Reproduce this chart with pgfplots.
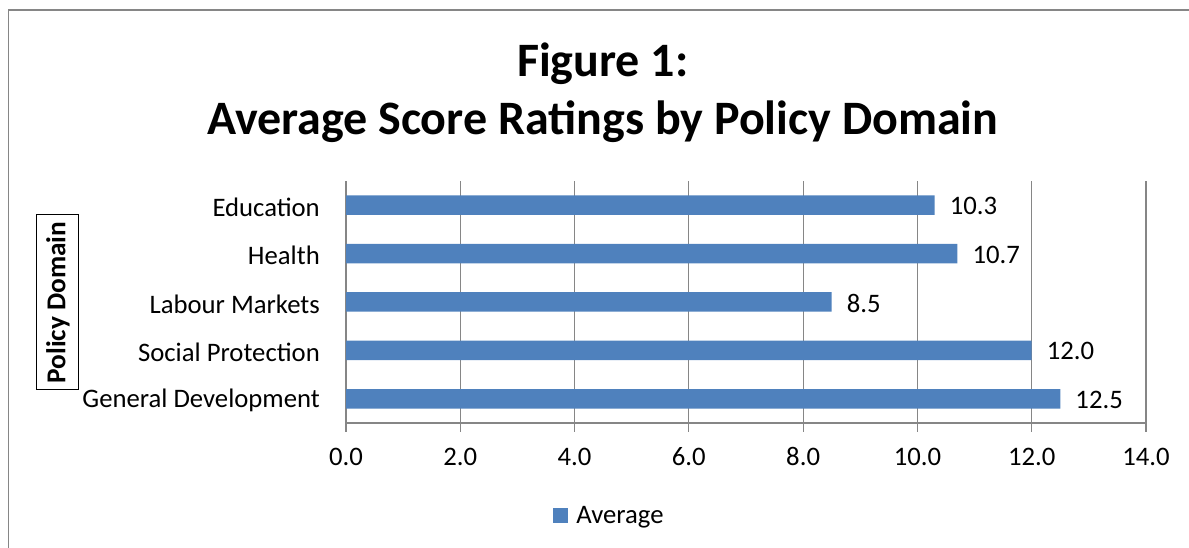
\documentclass[border=0pt]{standalone}
\usepackage{fontspec}
\setmainfont{Carlito}
\usepackage{pgfplots}
\pgfplotsset{compat=1.18}
\definecolor{barblue}{HTML}{4F81BD}
\definecolor{gridgray}{HTML}{868686}
\begin{document}
\begin{tikzpicture}
\useasboundingbox (0,0) rectangle (1189pt,548pt);
\draw[gridgray, line width=1.5pt] (8.5pt,-10pt) -- (8.5pt,538pt) -- (1200pt,538pt);
\begin{axis}[
  at={(346pt,125pt)}, anchor=south west,
  scale only axis, width=800pt, height=242pt,
  xmin=0, xmax=14, ymin=-0.5, ymax=4.5,
  xtick={0,2,...,14},
  ytick={0,1,2,3,4},
  yticklabels={General Development, Social Protection, Labour Markets, Health, Education},
  xbar, bar width=19.5pt,
  axis x line*=bottom, axis y line*=left,
  axis line style={gridgray, line width=1.2pt},
  xmajorgrids, grid style={gridgray, line width=1.2pt},
  tick align=outside,
  xtick style={gridgray, line width=1.2pt},
  major tick length=9pt,
  ytick style={draw=none},
  /pgf/number format/assume math mode=true,
  tick label style={font=\fontsize{26.7}{32}\selectfont},
  xticklabel style={anchor=base, inner sep=0pt, yshift=-34pt, /pgf/number format/.cd, fixed, fixed zerofill, precision=1},
  yticklabel style={anchor=east, inner xsep=0pt, xshift=-17pt, yshift=-2pt},
  nodes near coords,
  nodes near coords style={anchor=west, inner sep=0pt, xshift=15pt, yshift=-1pt, font=\fontsize{26.7}{32}\selectfont, /pgf/number format/.cd, fixed, fixed zerofill, precision=1},
  title={Figure 1:\\Average Score Ratings by Policy Domain},
  title style={at={(0.321,1.548)}, anchor=north, align=center, font=\bfseries\fontsize{48}{58}\selectfont, inner sep=0pt},
  ylabel={Policy Domain},
  every axis y label/.style={at={(-0.36,0.498)}, rotate=90, anchor=center, draw=black, line width=1pt, font=\bfseries\fontsize{27.3}{32}\selectfont, minimum width=175pt, minimum height=42pt, inner sep=0pt},
  legend entries={Average},
  legend style={at={(0.328,-0.382)}, anchor=center, draw=none, fill=none, font=\fontsize{26.7}{32}\selectfont, nodes={inner sep=0pt}},
  legend image code/.code={\fill[barblue] (0pt,-7.5pt) rectangle (15pt,7.5pt); \path (23pt,0pt);},
  clip=false,
]
\addplot[fill=barblue, draw=none] coordinates {(12.5,0) (12.0,1) (8.5,2) (10.7,3) (10.3,4)};
\end{axis}
\end{tikzpicture}
\end{document}
